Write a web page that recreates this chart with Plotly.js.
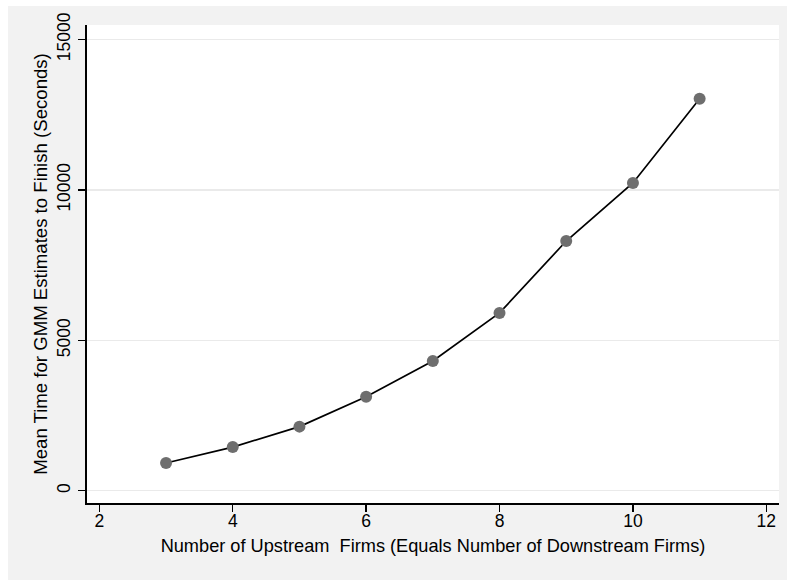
<!DOCTYPE html>
<html>
<head>
<meta charset="utf-8">
<script src="https://cdn.plot.ly/plotly-3.0.1.min.js"></script>
<style>
html,body{margin:0;padding:0;background:#fff;}
#chart{width:787px;height:580px;}
</style>
</head>
<body>
<div id="chart"></div>
<script>
const firms = [3, 4, 5, 6, 7, 8, 9, 10, 11];
const meanTime = [920, 1450, 2130, 3120, 4310, 5910, 8300, 10230, 13030];
const xTicks = [2, 4, 6, 8, 10, 12];
const yTicks = [0, 5000, 10000, 15000];
const xTitle = "Number of Upstream\u00a0 Firms (Equals Number of Downstream Firms)";
const yTitle = "Mean Time for GMM Estimates to Finish (Seconds)";

const font = "Liberation Sans, Arial, Helvetica, sans-serif";

const trace = {
  x: firms,
  y: meanTime,
  type: "scatter",
  mode: "lines+markers",
  line: {color: "#000000", width: 1.7},
  marker: {color: "#6e6e6e", size: 12},
  cliponaxis: false,
  hoverinfo: "x+y"
};

const layout = {
  width: 787,
  height: 580,
  margin: {l: 87, r: 8, t: 25, b: 77, pad: 0},
  paper_bgcolor: "#f2f2f2",
  plot_bgcolor: "#ffffff",
  showlegend: false,
  font: {family: font, color: "#000000", size: 17},
  xaxis: {
    range: [1.815, 12.19],
    tickvals: xTicks,
    ticktext: xTicks.map(String),
    ticks: "outside",
    ticklen: 7,
    tickwidth: 1.5,
    tickcolor: "#000",
    ticklabelstandoff: -6,
    showline: true,
    linecolor: "#000",
    linewidth: 1.6,
    showgrid: false,
    zeroline: false,
    tickfont: {family: font, size: 17.5, color: "#000"},
    title: {text: xTitle, font: {family: font, size: 18.2, color: "#000"}, standoff: 9}
  },
  yaxis: {
    range: [-409, 15482],
    tickvals: yTicks,
    ticktext: yTicks.map(String),
    tickangle: -90,
    ticks: "outside",
    ticklen: 7,
    tickwidth: 1.5,
    tickcolor: "#000",
    ticklabelstandoff: 1,
    showline: true,
    linecolor: "#000",
    linewidth: 1.6,
    showgrid: true,
    gridcolor: "#eaeaea",
    gridwidth: 1.5,
    zeroline: false,
    tickfont: {family: font, size: 17.5, color: "#000"},
    title: {text: yTitle, font: {family: font, size: 18.6, color: "#000"}, standoff: 2}
  },
  shapes: [
    {type: "rect", xref: "paper", yref: "paper", x0: -0.2, x1: (8 - 87) / 692, y0: -0.3, y1: 1.2,
     fillcolor: "#ffffff", line: {width: 0}, layer: "below"},
    {type: "rect", xref: "paper", yref: "paper", x0: -0.2, x1: 1.2, y0: (503 - 6) / 478, y1: 1.2,
     fillcolor: "#ffffff", line: {width: 0}, layer: "below"}
  ]
};

Plotly.newPlot("chart", [trace], layout, {displayModeBar: false, staticPlot: true});
</script>
</body>
</html>
